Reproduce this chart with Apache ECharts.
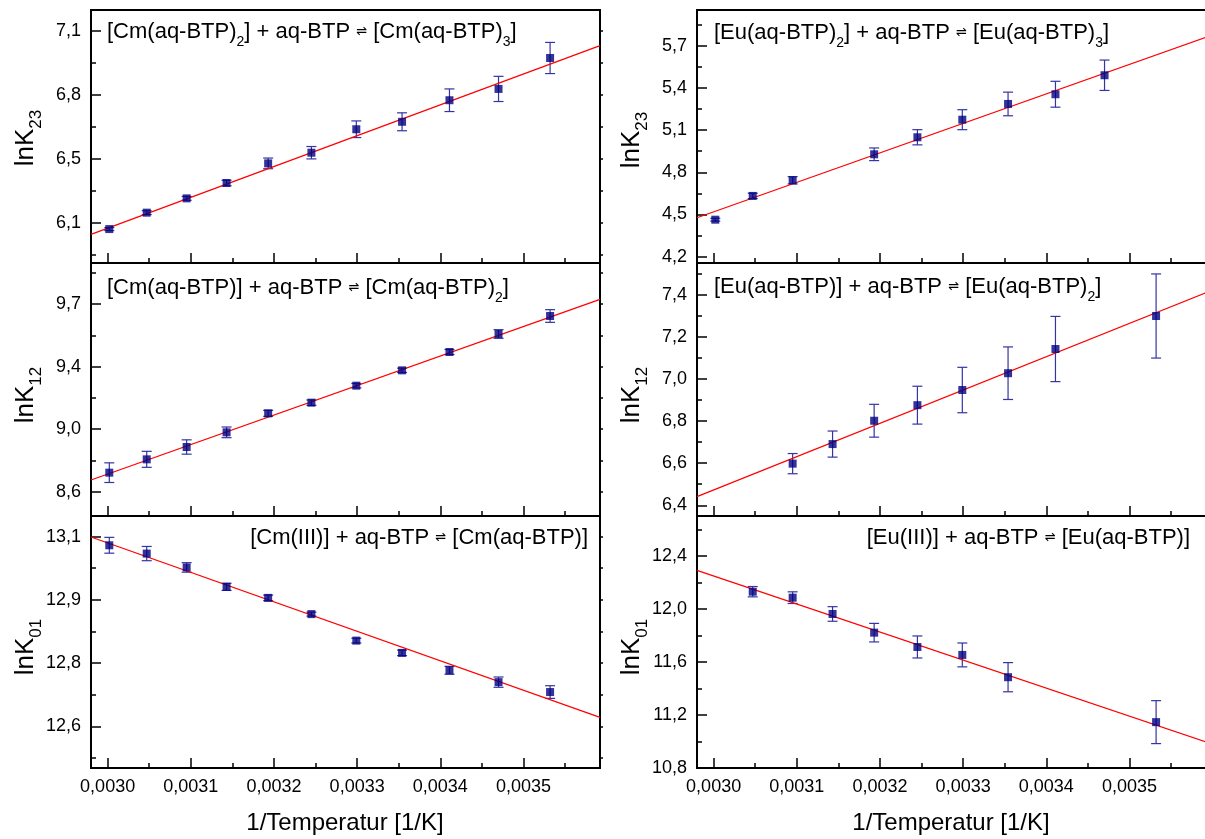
<!DOCTYPE html>
<html><head><meta charset="utf-8">
<script src="https://cdn.jsdelivr.net/npm/echarts@6/dist/echarts.min.js"></script>
<style>html,body{margin:0;padding:0;background:#fff}#c{width:1205px;height:839px}</style>
</head><body><div id="c"></div><script>
// ---------- data ----------
const tCm = [0.003002, 0.003047, 0.003095, 0.003143, 0.003193, 0.003245, 0.003299, 0.003354, 0.003411, 0.003470, 0.003532];
const cmK23 = [6.120, 6.197, 6.264, 6.336, 6.428, 6.478, 6.588, 6.623, 6.724, 6.777, 6.922];
const cmK23Err = [0.007, 0.009, 0.009, 0.013, 0.025, 0.029, 0.039, 0.042, 0.053, 0.059, 0.073];
const cmK12 = [8.714, 8.794, 8.868, 8.956, 9.070, 9.134, 9.236, 9.328, 9.438, 9.546, 9.654];
const cmK12Err = [0.059, 0.048, 0.043, 0.032, 0.018, 0.016, 0.013, 0.013, 0.015, 0.026, 0.038];
const cmK01 = [13.058, 13.037, 13.002, 12.953, 12.925, 12.884, 12.817, 12.786, 12.742, 12.712, 12.687];
const cmK01Err = [0.020, 0.018, 0.012, 0.009, 0.007, 0.005, 0.006, 0.007, 0.010, 0.013, 0.016];

const tEuK23 = [0.003002, 0.003047, 0.003095, 0.003193, 0.003245, 0.003299, 0.003354, 0.003411, 0.003470];
const euK23 = [4.463, 4.632, 4.743, 4.928, 5.049, 5.174, 5.286, 5.355, 5.490];
const euK23Err = [0.010, 0.019, 0.026, 0.045, 0.054, 0.071, 0.084, 0.092, 0.108];
const tEuK12 = [0.003095, 0.003143, 0.003193, 0.003245, 0.003299, 0.003354, 0.003411, 0.003532];
const euK12 = [6.598, 6.691, 6.802, 6.876, 6.948, 7.028, 7.143, 7.300];
const euK12Err = [0.048, 0.062, 0.078, 0.090, 0.108, 0.125, 0.155, 0.200];
const tEuK01 = [0.003047, 0.003095, 0.003143, 0.003193, 0.003245, 0.003299, 0.003354, 0.003532];
const euK01 = [12.130, 12.085, 11.962, 11.821, 11.713, 11.653, 11.485, 11.146];
const euK01Err = [0.039, 0.044, 0.055, 0.070, 0.083, 0.090, 0.110, 0.162];

// linear fit lines (end points)
const fitX = [0.00298, 0.003592];
const cmK23Fit = [6.095, 6.980];
const euK23Fit = [4.477, 5.760];
const cmK12Fit = [8.670, 9.754];
const euK12Fit = [6.441, 7.411];
const cmK01Fit = [13.079, 12.623];
const euK01Fit = [12.291, 10.996];

// axis ticks
const xRange = [0.00298, 0.003592];
const xMajor = [0.0030, 0.0031, 0.0032, 0.0033, 0.0034, 0.0035];
const xMajorLabels = ['0,0030', '0,0031', '0,0032', '0,0033', '0,0034', '0,0035'];
const xMinor = [0.00305, 0.00315, 0.00325, 0.00335, 0.00345, 0.00355];

const cmK23Range = [5.961, 7.147];
const cmK23Major = [6.15, 6.45, 6.75, 7.05];
const cmK23Labels = ['6,1', '6,5', '6,8', '7,1'];
const cmK23Minor = [6.0, 6.3, 6.6, 6.9];

const euK23Range = [4.155, 5.954];
const euK23Major = [4.2, 4.5, 4.8, 5.1, 5.4, 5.7];
const euK23Labels = ['4,2', '4,5', '4,8', '5,1', '5,4', '5,7'];
const euK23Minor = [4.35, 4.65, 4.95, 5.25, 5.55, 5.85];

const cmK12Range = [8.454, 9.972];
const cmK12Major = [8.6, 8.975, 9.35, 9.725];
const cmK12Labels = ['8,6', '9,0', '9,4', '9,7'];
const cmK12Minor = [8.7875, 9.1625, 9.5375, 9.9125];

const euK12Range = [6.349, 7.552];
const euK12Major = [6.4, 6.6, 6.8, 7.0, 7.2, 7.4];
const euK12Labels = ['6,4', '6,6', '6,8', '7,0', '7,2', '7,4'];
const euK12Minor = [6.5, 6.7, 6.9, 7.1, 7.3, 7.5];

const cmK01Range = [12.495, 13.132];
const cmK01Major = [12.6, 12.76, 12.92, 13.08];
const cmK01Labels = ['12,6', '12,8', '12,9', '13,1'];
const cmK01Minor = [12.52, 12.68, 12.84, 13.0];

const euK01Range = [10.8, 12.701];
const euK01Major = [10.8, 11.2, 11.6, 12.0, 12.4];
const euK01Labels = ['10,8', '11,2', '11,6', '12,0', '12,4'];
const euK01Minor = [11.0, 11.4, 11.8, 12.2, 12.6];

// ---------- layout ----------
const FONT = 'Liberation Sans, Arial, sans-serif';
const colLeft = [91, 697];
const rowTop = [10, 263, 516];
const rowH = [253, 253, 252];
const plotW = 509;

const panels = [
  {col:0,row:0,x:tCm,y:cmK23,e:cmK23Err,fit:cmK23Fit,range:cmK23Range,major:cmK23Major,labels:cmK23Labels,minor:cmK23Minor,
   eq:'{m|[Cm(aq-BTP)}{s|2}{m|] + aq-BTP }{e|⇌}{m| [Cm(aq-BTP)}{s|3}{m|]}', eqX:107, eqY:32, eqAlign:'left', yName:'23', nameY:138},
  {col:1,row:0,x:tEuK23,y:euK23,e:euK23Err,fit:euK23Fit,range:euK23Range,major:euK23Major,labels:euK23Labels,minor:euK23Minor,
   eq:'{m|[Eu(aq-BTP)}{s|2}{m|] + aq-BTP }{e|⇌}{m| [Eu(aq-BTP)}{s|3}{m|]}', eqX:714, eqY:33, eqAlign:'left', yName:'23', nameY:140},
  {col:0,row:1,x:tCm,y:cmK12,e:cmK12Err,fit:cmK12Fit,range:cmK12Range,major:cmK12Major,labels:cmK12Labels,minor:cmK12Minor,
   eq:'{m|[Cm(aq-BTP)] + aq-BTP }{e|⇌}{m| [Cm(aq-BTP)}{s|2}{m|]}', eqX:107, eqY:288, eqAlign:'left', yName:'12', nameY:395},
  {col:1,row:1,x:tEuK12,y:euK12,e:euK12Err,fit:euK12Fit,range:euK12Range,major:euK12Major,labels:euK12Labels,minor:euK12Minor,
   eq:'{m|[Eu(aq-BTP)] + aq-BTP }{e|⇌}{m| [Eu(aq-BTP)}{s|2}{m|]}', eqX:714, eqY:287, eqAlign:'left', yName:'12', nameY:395},
  {col:0,row:2,x:tCm,y:cmK01,e:cmK01Err,fit:cmK01Fit,range:cmK01Range,major:cmK01Major,labels:cmK01Labels,minor:cmK01Minor,
   eq:'{m|[Cm(III)] + aq-BTP }{e|⇌}{m| [Cm(aq-BTP)]}', eqX:588, eqY:538, eqAlign:'right', yName:'01', nameY:647},
  {col:1,row:2,x:tEuK01,y:euK01,e:euK01Err,fit:euK01Fit,range:euK01Range,major:euK01Major,labels:euK01Labels,minor:euK01Minor,
   eq:'{m|[Eu(III)] + aq-BTP }{e|⇌}{m| [Eu(aq-BTP)]}', eqX:1190, eqY:538, eqAlign:'right', yName:'01', nameY:647}
];

const eqRich = {
  m: {fontFamily: FONT, fontSize: 22, lineHeight: 34, color: '#000', verticalAlign: 'middle'},
  s: {fontFamily: FONT, fontSize: 14, lineHeight: 8, color: '#000', verticalAlign: 'bottom'},
  e: {fontFamily: 'DejaVu Sans', fontSize: 13, lineHeight: 34, color: '#000', verticalAlign: 'middle'}
};
const nameRich = {
  m: {fontFamily: FONT, fontSize: 26, lineHeight: 38, color: '#000', verticalAlign: 'middle'},
  s: {fontFamily: FONT, fontSize: 17, lineHeight: 12, color: '#000', verticalAlign: 'bottom'}
};

const grid = [], xAxis = [], yAxis = [], series = [], graphic = [];
const labelFrom = (vals, labs) => v => {
  for (let i = 0; i < vals.length; i++) if (Math.abs(v - vals[i]) < 1e-9) return labs[i];
  return '';
};

panels.forEach((p, i) => {
  grid.push({left: colLeft[p.col], top: rowTop[p.row], width: plotW, height: rowH[p.row],
    show: true, borderColor: '#000', borderWidth: 2, backgroundColor: 'transparent', outerBoundsMode: 'none', containLabel: false});
  const bottomRow = p.row === 2;
  // x major
  xAxis.push({type: 'value', gridIndex: i, min: xRange[0], max: xRange[1], position: 'bottom',
    axisLine: {show: true, onZero: false, lineStyle: {color: '#000', width: 2}},
    axisTick: {show: true, inside: true, length: 10, customValues: xMajor, lineStyle: {color: '#000', width: 1.5}},
    axisLabel: {show: bottomRow, customValues: xMajor, formatter: labelFrom(xMajor, xMajorLabels), margin: 10,
      color: '#000', fontFamily: FONT, fontSize: 18},
    splitLine: {show: false}});
  // x minor
  xAxis.push({type: 'value', gridIndex: i, min: xRange[0], max: xRange[1], position: 'bottom',
    axisLine: {show: false, onZero: false},
    axisTick: {show: true, inside: true, length: 5, customValues: xMinor, lineStyle: {color: '#000', width: 1.5}},
    axisLabel: {show: false}, splitLine: {show: false}});
  // y major
  yAxis.push({type: 'value', gridIndex: i, min: p.range[0], max: p.range[1], position: 'left',
    axisLine: {show: true, onZero: false, lineStyle: {color: '#000', width: 2}},
    axisTick: {show: true, inside: true, length: 10, customValues: p.major, lineStyle: {color: '#000', width: 1.5}},
    axisLabel: {show: true, customValues: p.major, formatter: labelFrom(p.major, p.labels), margin: 10,
      color: '#000', fontFamily: FONT, fontSize: 18},
    splitLine: {show: false}});
  // y minor
  yAxis.push({type: 'value', gridIndex: i, min: p.range[0], max: p.range[1], position: 'left',
    axisLine: {show: false, onZero: false},
    axisTick: {show: true, inside: true, length: 5, customValues: p.minor, lineStyle: {color: '#000', width: 1.5}},
    axisLabel: {show: false}, splitLine: {show: false}});
  // y right mirror (small outward ticks)
  yAxis.push({type: 'value', gridIndex: i, min: p.range[0], max: p.range[1], position: 'right',
    axisLine: {show: false, onZero: false},
    axisTick: {show: true, inside: false, length: 3, customValues: p.major.concat(p.minor), lineStyle: {color: '#000', width: 1.5}},
    axisLabel: {show: false}, splitLine: {show: false}});

  const xi = 2 * i, yi = 3 * i;
  series.push({
    type: 'custom', xAxisIndex: xi, yAxisIndex: yi, z: 2, silent: true,
    data: p.x.map((x, k) => [x, p.y[k], p.e[k]]),
    encode: {x: 0, y: 1},
    renderItem: (params, api) => {
      const x = api.value(0), y = api.value(1), e = api.value(2);
      const top = api.coord([x, y + e]), bot = api.coord([x, y - e]);
      const hw = 5, st = {stroke: '#3434a4', lineWidth: 1.2};
      return {type: 'group', children: [
        {type: 'line', shape: {x1: top[0], y1: top[1], x2: bot[0], y2: bot[1]}, style: st},
        {type: 'line', shape: {x1: top[0] - hw, y1: top[1], x2: top[0] + hw, y2: top[1]}, style: st},
        {type: 'line', shape: {x1: bot[0] - hw, y1: bot[1], x2: bot[0] + hw, y2: bot[1]}, style: st}
      ]};
    }
  });
  series.push({
    type: 'line', xAxisIndex: xi, yAxisIndex: yi, z: 3, silent: true, showSymbol: false, symbol: 'none',
    data: fitX.map((x, k) => [x, p.fit[k]]),
    lineStyle: {color: '#ff0000', width: 1.2}
  });
  series.push({
    type: 'scatter', xAxisIndex: xi, yAxisIndex: yi, z: 4, silent: true, symbol: 'rect', symbolSize: 8,
    itemStyle: {color: '#000080'},
    data: p.x.map((x, k) => [x, p.y[k]])
  });

  graphic.push({type: 'text', x: p.eqX, y: p.eqY, z: 10, silent: true,
    style: {text: p.eq, rich: eqRich, align: p.eqAlign, verticalAlign: 'middle'}});
  graphic.push({type: 'text', x: colLeft[p.col] - 65, y: p.nameY, rotation: Math.PI / 2, z: 10, silent: true,
    style: {text: '{m|lnK}{s|' + p.yName + '}', rich: nameRich, align: 'center', verticalAlign: 'middle'}});
});

// x axis titles
[345, 951].forEach(cx => {
  graphic.push({type: 'text', x: cx, y: 823, silent: true,
    style: {text: '1/Temperatur [1/K]', fontFamily: FONT, fontSize: 24, fill: '#000', align: 'center', verticalAlign: 'middle'}});
});

const chart = echarts.init(document.getElementById('c'), null, {renderer: 'canvas'});
chart.setOption({animation: false, backgroundColor: '#ffffff', grid, xAxis, yAxis, series, graphic});
</script></body></html>
